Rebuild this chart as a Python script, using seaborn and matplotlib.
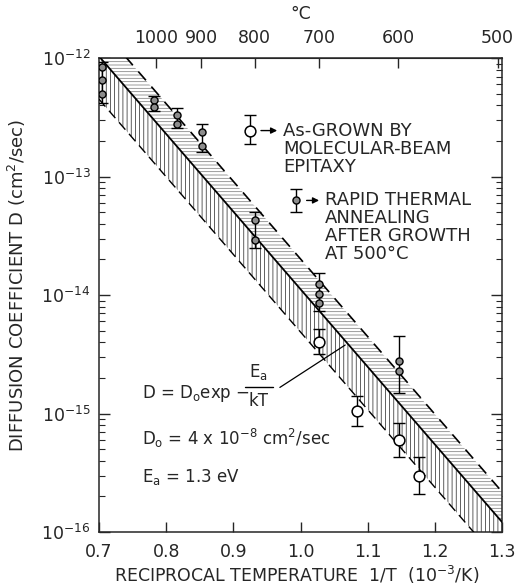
import numpy as np
import pandas as pd
import matplotlib
matplotlib.use("Agg")
import matplotlib.pyplot as plt
import matplotlib.ticker as mticker
import seaborn as sns

# ---------------- data ----------------
D0 = 4e-8            # cm^2/sec
Ea = 1.3             # eV
k_B = 8.617e-5       # eV/K
band_hi = 1.8        # upper edge factor of shaded band
band_lo = 1 / 2.3    # lower edge factor of shaded band

# As-grown by MBE (open circles)
mbe_x = [1.027, 1.084, 1.146, 1.176]
mbe_y = [4.0e-15, 1.05e-15, 6.0e-16, 3.0e-16]
mbe_lo = [3.2e-15, 7.9e-16, 4.3e-16, 2.1e-16]
mbe_hi = [5.2e-15, 1.4e-15, 8.3e-16, 4.3e-16]

# Rapid thermal annealing after growth at 500C (small dotted circles)
rta_x = [0.705, 0.705, 0.705, 0.782, 0.782, 0.816, 0.816, 0.853, 0.853,
         0.932, 0.932, 1.027, 1.027, 1.027, 1.146, 1.146]
rta_y = [8.5e-13, 6.5e-13, 5.0e-13, 4.4e-13, 3.9e-13, 3.3e-13, 2.8e-13,
         2.4e-13, 1.8e-13, 4.3e-14, 2.9e-14, 1.25e-14, 1.02e-14, 8.5e-15,
         2.8e-15, 2.3e-15]
rta_bar_x = [0.705, 0.782, 0.816, 0.853, 0.932, 1.027, 1.146]
rta_bar_lo = [4.2e-13, 3.6e-13, 2.6e-13, 1.6e-13, 2.5e-14, 7.4e-15, 1.5e-15]
rta_bar_hi = [9.3e-13, 4.8e-13, 3.8e-13, 2.8e-13, 5.0e-14, 1.55e-14, 4.5e-15]

# hand-drawn legend keys
key_mbe = dict(x=0.925, y=2.45e-13, lo=1.9e-13, hi=3.3e-13)
key_rta = dict(x=0.993, y=6.3e-14, lo=5.0e-14, hi=7.9e-14)

# axes ticks
celsius_ticks = [1000, 900, 800, 700, 600, 500]
x_ticks = [0.7, 0.8, 0.9, 1.0, 1.1, 1.2, 1.3]
x_ticklabels = ["0.7", "0.8", "0.9", "1.0", "1.1", "1.2", "1.3"]
y_ticks = [1e-16, 1e-15, 1e-14, 1e-13, 1e-12]
y_ticklabels = ["10$^{-16}$", "10$^{-15}$", "10$^{-14}$", "10$^{-13}$", "10$^{-12}$"]

# ---------------- style ----------------
sns.set_style("ticks")
plt.rcParams["font.family"] = ["DejaVu Sans"]
plt.rcParams["hatch.linewidth"] = 0.55
plt.rcParams["mathtext.default"] = "regular"

fig = plt.figure(figsize=(5.17, 5.88), dpi=100)
ax = fig.add_axes([0.1915, 0.0952, 0.7795, 0.8058])
ax.set_yscale("log")
ax.set_xlim(0.7, 1.3)
ax.set_ylim(1e-16, 1e-12)

# band & central line
inv_t = np.linspace(0.7, 1.3, 200)
center = D0 * np.exp(-Ea / (k_B * 1000.0 / inv_t))
upper = center * band_hi
lower = center * band_lo
ax.fill_between(inv_t, center, upper, facecolor="white", edgecolor="0.5",
                hatch="-----", linewidth=0, zorder=1)
ax.fill_between(inv_t, lower, center, facecolor="white", edgecolor="0.2",
                hatch="||||", linewidth=0, zorder=1)
line_df = pd.DataFrame({"x": inv_t, "c": center, "u": upper, "l": lower})
sns.lineplot(data=line_df, x="x", y="c", color="black", lw=1.3, ax=ax, zorder=3)
sns.lineplot(data=line_df, x="x", y="u", color="black", lw=1.2, ax=ax,
             zorder=3).lines[-1].set_dashes([7, 5])
sns.lineplot(data=line_df, x="x", y="l", color="black", lw=1.0, ax=ax,
             zorder=3).lines[-1].set_dashes([7, 4])

# error bars
def bars(x, lo, hi):
    x = np.asarray(x); lo = np.asarray(lo); hi = np.asarray(hi)
    mid = np.sqrt(lo * hi)
    ax.errorbar(x, mid, yerr=[mid - lo, hi - mid], fmt="none", ecolor="black",
                elinewidth=1.0, capsize=4, capthick=1.0, zorder=4)

bars(mbe_x, mbe_lo, mbe_hi)
bars(rta_bar_x, rta_bar_lo, rta_bar_hi)
bars([key_mbe["x"]], [key_mbe["lo"]], [key_mbe["hi"]])
bars([key_rta["x"]], [key_rta["lo"]], [key_rta["hi"]])

mbe_df = pd.DataFrame({"x": mbe_x + [key_mbe["x"]], "y": mbe_y + [key_mbe["y"]]})
rta_df = pd.DataFrame({"x": rta_x + [key_rta["x"]], "y": rta_y + [key_rta["y"]]})
sns.scatterplot(data=mbe_df, x="x", y="y", s=60, marker="o", facecolor="white",
                edgecolor="black", linewidth=1.1, ax=ax, zorder=5)
sns.scatterplot(data=rta_df, x="x", y="y", s=26, marker="o", facecolor="0.55",
                edgecolor="black", linewidth=1.0, ax=ax, zorder=5)

# legend arrows and text
for key, x_txt in ((key_mbe, 0.457), (key_rta, 0.561)):
    ax.annotate("", xy=(x_txt - 0.008, key["y"]),
                xycoords=("axes fraction", "data"),
                xytext=(key["x"] + 0.012, key["y"]), textcoords="data",
                arrowprops=dict(arrowstyle="-|>", color="black", lw=1.0,
                                mutation_scale=9), zorder=5)
tfs = 13
ax.text(0.457, 0.866, "As-GROWN BY\nMOLECULAR-BEAM\nEPITAXY", transform=ax.transAxes,
        fontsize=tfs, va="top", ha="left", linespacing=1.0)
ax.text(0.561, 0.719, "RAPID THERMAL\nANNEALING\nAFTER GROWTH\nAT 500°C",
        transform=ax.transAxes, fontsize=tfs, va="top", ha="left",
        linespacing=1.0)

# formula
fs = 12
ax.text(0.107, 0.293, "D = D$_o$exp $-$", transform=ax.transAxes, fontsize=fs,
        va="center", ha="left")
ax.text(0.395, 0.338, "E$_a$", transform=ax.transAxes, fontsize=fs,
        va="center", ha="center")
ax.plot([0.362, 0.432], [0.306, 0.306], transform=ax.transAxes, color="black",
        lw=1.0)
ax.text(0.395, 0.276, "kT", transform=ax.transAxes, fontsize=fs,
        va="center", ha="center")
x_ptr = 1.07
y_ptr = D0 * np.exp(-Ea / (k_B * 1000.0 / x_ptr))
ax.annotate("", xy=(x_ptr, y_ptr), xycoords="data",
            xytext=(0.443, 0.302), textcoords="axes fraction",
            arrowprops=dict(arrowstyle="-", color="black", lw=0.9))
ax.text(0.107, 0.198, "D$_o$ = 4 x 10$^{-8}$ cm$^2$/sec", transform=ax.transAxes,
        fontsize=fs, va="center", ha="left")
ax.text(0.107, 0.116, "E$_a$ = 1.3 eV", transform=ax.transAxes, fontsize=fs,
        va="center", ha="left")

# axes ticks
lfs = 12.5
ax.set_xticks(x_ticks)
ax.set_xticklabels(x_ticklabels, fontsize=lfs)
ax.set_yticks(y_ticks)
ax.set_yticklabels(y_ticklabels, fontsize=lfs)
ax.yaxis.set_minor_locator(mticker.LogLocator(base=10, subs=np.arange(2, 10),
                                              numticks=20))
ax.yaxis.set_minor_formatter(mticker.NullFormatter())
ax.xaxis.set_minor_locator(mticker.NullLocator())
ax.tick_params(axis="x", which="major", direction="in", length=7, width=1,
               top=False, pad=8)
ax.tick_params(axis="y", which="major", direction="in", length=8, width=1,
               right=True, pad=6)
ax.tick_params(axis="y", which="minor", direction="in", length=4, width=0.8,
               right=True)
for s in ax.spines.values():
    s.set_linewidth(1.1)
    s.set_visible(True)

ax.set_xlabel("RECIPROCAL TEMPERATURE  1/T  (10$^{-3}$/K)", fontsize=12.5)
ax.xaxis.set_label_coords(0.49, -0.068)
ax.set_ylabel("DIFFUSION COEFFICIENT D (cm$^2$/sec)", fontsize=13)
ax.yaxis.set_label_coords(-0.175, 0.52)

# top axis in Celsius
top = ax.secondary_xaxis("top", functions=(lambda v: v, lambda v: v))
top.set_xticks([1000.0 / (c + 273.15) for c in celsius_ticks])
top.set_xticklabels([str(c) for c in celsius_ticks], fontsize=lfs)
top.tick_params(direction="in", length=7, width=1, pad=8)
top.set_xlabel("°C", fontsize=lfs, labelpad=7)

fig.savefig("out.png", dpi=100)
